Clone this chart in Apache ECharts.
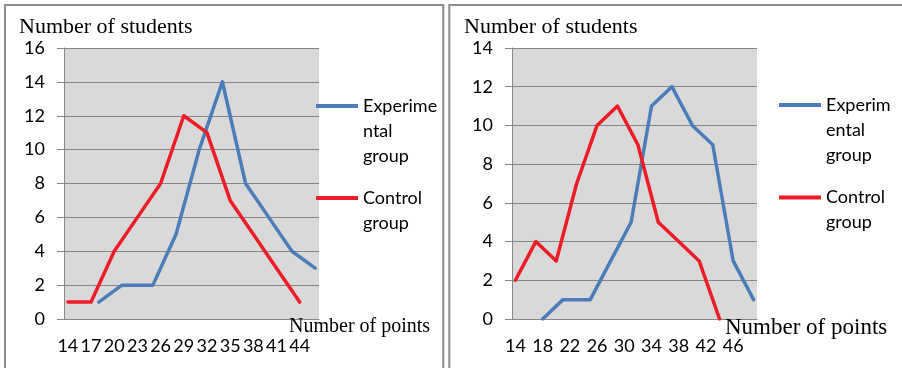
<!DOCTYPE html>
<html>
<head>
<meta charset="utf-8">
<script src="https://cdn.jsdelivr.net/npm/echarts@6/dist/echarts.min.js"></script>
<style>
html,body{margin:0;padding:0;background:#fff;}
#c{width:902px;height:368px;}
</style>
</head>
<body>
<div id="c"></div>
<script>
// ---------- data ----------
var leftCategories = ['14','15','16','17','18','19','20','21','22','23','24','25','26','27','28','29','30',
  '31','32','33','34','35','36','37','38','39','40','41','42','43','44','45','46'];
var leftExpX  = [18, 21, 25, 28, 31, 34, 37, 40, 43, 46];
var leftExpY  = [1, 2, 2, 5, 10, 14, 8, 6, 4, 3];
var leftCtrlX = [14, 17, 20, 23, 26, 29, 32, 35, 38, 41, 44];
var leftCtrlY = [1, 1, 4, 6, 8, 12, 11, 7, 5, 3, 1];

var rightCategories = ['14','15','16','17','18','19','20','21','22','23','24','25','26','27','28','29','30',
  '31','32','33','34','35','36','37','38','39','40','41','42','43','44','45','46','47','48','49'];
var rightExpX  = [18, 21, 25, 28, 31, 34, 37, 40, 43, 46, 49];
var rightExpY  = [0, 1, 1, 3, 5, 11, 12, 10, 9, 3, 1];
var rightCtrlX = [14, 17, 20, 23, 26, 29, 32, 35, 38, 41, 44];
var rightCtrlY = [2, 4, 3, 7, 10, 11, 9, 5, 4, 3, 0];

var leftYMax = 16, rightYMax = 14, yStep = 2;
var yTitle = 'Number of students';
var xTitle = 'Number of points';
var expName = 'Experimental group';
var ctrlName = 'Control group';

// ---------- styling ----------
var BLUE = '#4a7ebb', RED = '#ee1c25', GRID = '#868686';
var SANS = 'Lato', SERIF = 'Liberation Serif';

function pairs(xs, ys) { return xs.map(function (x, i) { return [String(x), ys[i]]; }); }

function xAx(gi, cats, interval) {
  return {
    type: 'category', gridIndex: gi, data: cats, boundaryGap: true,
    axisLine: { show: true, lineStyle: { color: GRID, width: 1 } },
    axisTick: { show: false },
    axisLabel: { interval: interval, margin: 18, color: '#000', fontFamily: SANS, fontSize: 18 },
    splitLine: { show: false }
  };
}
function yAx(gi, max) {
  return {
    type: 'value', gridIndex: gi, min: 0, max: max, interval: yStep,
    axisLine: { show: true, lineStyle: { color: GRID, width: 1 } },
    axisTick: { show: true, length: 7, lineStyle: { color: GRID, width: 1 } },
    axisLabel: { margin: 19, color: '#000', fontFamily: SANS, fontSize: 18 },
    splitLine: { show: true, lineStyle: { color: GRID, width: 1 } }
  };
}
function lineSeries(name, gi, data, color) {
  return {
    type: 'line', name: name, xAxisIndex: gi, yAxisIndex: gi, data: data,
    showSymbol: false, symbol: 'none', smooth: false,
    itemStyle: { color: color },
    lineStyle: { color: color, width: 3.5, cap: 'round', join: 'round' }
  };
}
// legend text: blank lines on top so that the first text line sits beside the icon
function legendItem(name, left, top, lines) {
  var pad = [];
  for (var i = 1; i < lines.length; i++) pad.push('\u00a0');
  var text = pad.concat(lines).join('\n');
  return {
    data: [name], left: left, top: top, orient: 'vertical', padding: 0,
    itemWidth: 42, itemHeight: 4, icon: 'rect', selectedMode: false, itemGap: 0,
    formatter: function () { return text; },
    textStyle: { fontFamily: SANS, fontSize: 18, lineHeight: 25, color: '#000' }
  };
}
function titleText(text, left, top, size) {
  return { text: text, left: left, top: top, padding: 0,
    textStyle: { fontFamily: SERIF, fontSize: size, fontWeight: 'normal', color: '#000' } };
}

var chart = echarts.init(document.getElementById('c'), null, { renderer: 'canvas' });
chart.setOption({
  animation: false,
  backgroundColor: '#fff',
  title: [
    titleText(yTitle, 19, 16, 22),
    titleText(yTitle, 464, 16, 22),
    titleText(xTitle, 289, 317, 20),
    titleText(xTitle, 725, 316, 23)
  ],
  grid: [
    { left: 64, top: 48, width: 255, height: 271, show: true, backgroundColor: '#d9d9d9', borderWidth: 0 },
    { left: 512, top: 48, width: 245, height: 271, show: true, backgroundColor: '#d9d9d9', borderWidth: 0 }
  ],
  xAxis: [xAx(0, leftCategories, 2), xAx(1, rightCategories, 3)],
  yAxis: [yAx(0, leftYMax), yAx(1, rightYMax)],
  legend: [
    legendItem(expName, 316, 43.5, ['Experime', 'ntal', 'group']),
    legendItem(ctrlName, 316, 160.5, ['Control', 'group']),
    legendItem(expName, 779, 42.5, ['Experim', 'ental', 'group']),
    legendItem(ctrlName, 779, 160, ['Control', 'group'])
  ],
  series: [
    lineSeries(expName, 0, pairs(leftExpX, leftExpY), BLUE),
    lineSeries(ctrlName, 0, pairs(leftCtrlX, leftCtrlY), RED),
    lineSeries(expName, 1, pairs(rightExpX, rightExpY), BLUE),
    lineSeries(ctrlName, 1, pairs(rightCtrlX, rightCtrlY), RED)
  ],
  graphic: [
    { type: 'rect', silent: true, shape: { x: 5, y: 5, width: 438.3, height: 400 }, style: { fill: 'none', stroke: '#8c8c8c', lineWidth: 2 } },
    { type: 'rect', silent: true, shape: { x: 449.3, y: 5, width: 500, height: 400 }, style: { fill: 'none', stroke: '#8c8c8c', lineWidth: 2 } }
  ]
});
</script>
</body>
</html>
